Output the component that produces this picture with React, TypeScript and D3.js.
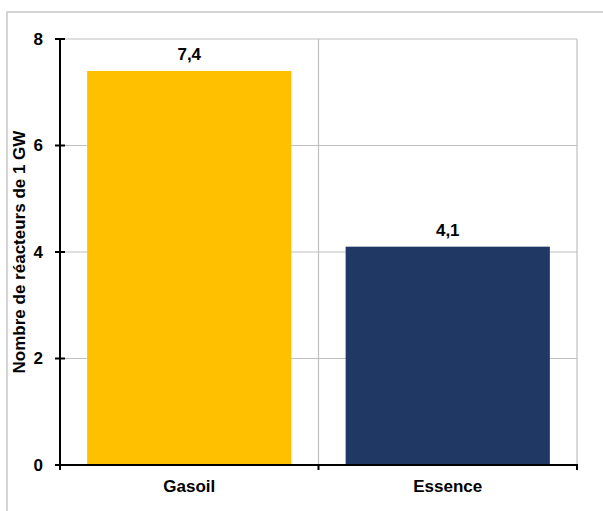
import React from "react";
import * as d3 from "d3";

const categories = ["Gasoil", "Essence"];
const values = [7.4, 4.1];
const valueLabels = ["7,4", "4,1"];
const colors = ["#FFC000", "#203864"];
const yTicks = [0, 2, 4, 6, 8];
const yTitle = "Nombre de réacteurs de 1 GW";

export default function App() {
  const W = 603, H = 511;
  const left = 60, right = 577, top = 39, bottom = 465;
  const x = d3.scaleBand<string>().domain(categories).range([left, right]).paddingInner(0.21).paddingOuter(0.105);
  const y = d3.scaleLinear().domain([0, 8]).range([bottom, top]);
  const font = "'Liberation Sans', Arial, sans-serif";
  const fs = 17;
  const bounds = [left, left + (right - left) / 2, right];
  return (
    <svg width={W} height={H} style={{ position: "absolute", left: 0, top: 0 }} fontFamily={font}>
      <rect x={0} y={0} width={W} height={H} fill="#fff" />
      <rect x={7} y={12} width={W + 10} height={H + 10} fill="none" stroke="#c8c8c8" strokeWidth={1.5} />
      {yTicks.filter(t => t > 0).map(t => (
        <line key={"g" + t} x1={left} x2={right} y1={y(t)} y2={y(t)} stroke="#c0c0c0" strokeWidth={1.2} />
      ))}
      {bounds.slice(1).map((b, i) => (
        <line key={"v" + i} x1={b} x2={b} y1={top} y2={bottom} stroke="#c0c0c0" strokeWidth={1.2} />
      ))}
      {categories.map((c, i) => (
        <rect key={c} x={x(c)} y={y(values[i])} width={x.bandwidth()} height={bottom - y(values[i])} fill={colors[i]} />
      ))}
      {categories.map((c, i) => (
        <text key={"l" + c} x={x(c)! + x.bandwidth() / 2} y={y(values[i]) - 11} textAnchor="middle" fontSize={fs} fontWeight="bold">{valueLabels[i]}</text>
      ))}
      <line x1={left} x2={left} y1={top} y2={bottom + 1} stroke="#000" strokeWidth={2} />
      <line x1={left - 1} x2={right + 1} y1={bottom} y2={bottom} stroke="#000" strokeWidth={2} />
      {yTicks.map(t => (
        <g key={"t" + t}>
          <line x1={left - 5} x2={left + 5} y1={y(t)} y2={y(t)} stroke="#000" strokeWidth={2} />
          <text x={left - 17} y={y(t)} dy="0.35em" textAnchor="end" fontSize={fs} fontWeight="bold">{t}</text>
        </g>
      ))}
      {bounds.map((b, i) => (
        <line key={"xt" + i} x1={b} x2={b} y1={bottom} y2={bottom + 5} stroke="#000" strokeWidth={2} />
      ))}
      {categories.map(c => (
        <text key={"c" + c} x={x(c)! + x.bandwidth() / 2} y={492} textAnchor="middle" fontSize={fs} fontWeight="bold">{c}</text>
      ))}
      <text transform={`translate(25, ${(top + bottom) / 2}) rotate(-90)`} textAnchor="middle" fontSize={fs} fontWeight="bold">{yTitle}</text>
    </svg>
  );
}
